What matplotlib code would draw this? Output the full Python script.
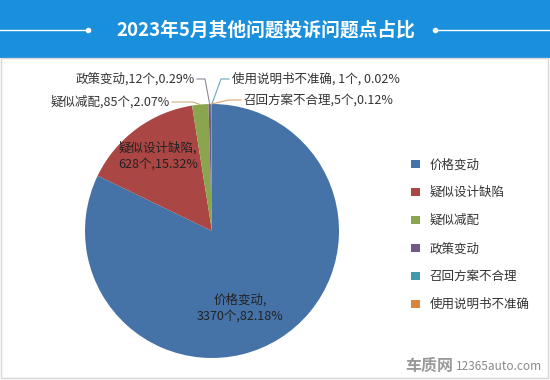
import numpy as np
import matplotlib
matplotlib.use("Agg")
import matplotlib.pyplot as plt
from matplotlib.patches import Rectangle

plt.rcParams['font.family'] = ['Noto Sans CJK SC', 'DejaVu Sans']

# data
categories = ['价格变动', '疑似设计缺陷', '疑似减配', '政策变动', '召回方案不合理', '使用说明书不准确']
counts = [3370, 628, 85, 12, 5, 1]
percents = ['82.18%', '15.32%', '2.07%', '0.29%', '0.12%', '0.02%']
colors = ['#4572A7', '#AA4643', '#89A54E', '#71588F', '#4198AF', '#DB843D']
title = '2023年5月其他问题投诉问题点占比'

W, H = 550, 380
fig = plt.figure(figsize=(W / 100, H / 100), dpi=100)
fig.patch.set_facecolor('white')

# header band
fig.patches.append(Rectangle((0, 1 - 58 / H), 1, 58 / H, transform=fig.transFigure,
                             facecolor='#1a8fdc', edgecolor='none', zorder=0))
ty = 1 - 30 / H
fig.add_artist(plt.Line2D([0, 88 / W], [ty, ty], color='white', lw=1, transform=fig.transFigure))
fig.add_artist(plt.Line2D([435 / W, 1], [ty, ty], color='white', lw=1, transform=fig.transFigure))
fig.add_artist(plt.Line2D([88 / W, 435 / W], [ty, ty], color='white', lw=0, marker='o', ms=3,
                          transform=fig.transFigure))
fig.text(266 / W, ty, title, color='white', fontsize=13.5, fontweight='bold',
         ha='center', va='center')

# panel border
fig.add_artist(Rectangle((1 / W, 2 / H), (W - 3) / W, (H - 60) / H, transform=fig.transFigure,
                         facecolor='none', edgecolor='#d6d6d6', lw=1))

# pie
cx, cy, r = 212, 231, 127
ax = fig.add_axes([(cx - r) / W, (H - cy - r) / H, 2 * r / W, 2 * r / H])
wedges, _ = ax.pie(counts, colors=colors, startangle=90, counterclock=False, radius=1)
ax.set_xlim(-1, 1)
ax.set_ylim(-1, 1)
ax.set_aspect('auto')
ax.axis('off')

def px(x, y):
    # pixel coords -> data coords of pie axes
    return (x - cx) / r, -(y - cy) / r

labels = [f'{c},{n}个,{p}' for c, n, p in zip(categories, counts, percents)]

# inside labels
ax.text(*px(240, 308), f'{categories[0]},\n{counts[0]}个,{percents[0]}', ha='center', va='center',
        fontsize=9, color='#222222', linespacing=1.3)
ax.text(*px(158, 156), f'{categories[1]},\n{counts[1]}个,{percents[1]}', ha='center', va='center',
        fontsize=9, color='#222222', linespacing=1.3)

# outside labels with leader lines
def mid_point(w, frac=1.0):
    a = np.deg2rad((w.theta1 + w.theta2) / 2)
    return frac * np.cos(a), frac * np.sin(a)

outside = [
    (2, labels[2], (172, 102), (193, 102), '#c8ad82'),
    (3, labels[3], (197, 79), (205, 79), '#8a8a9a'),
    (5, '使用说明书不准确, 1个, 0.02%', (229, 79), (221, 79), '#6aa8c0'),
    (4, labels[4], (241, 100), (229, 100), '#e0a070'),
]
for i, txt, tpos, bend, lc in outside:
    ex, ey = mid_point(wedges[i])
    bx, by = px(*bend)
    tx, tyy = px(*tpos)
    ha = 'right' if tpos[0] < bend[0] else 'left'
    ax.plot([ex, bx, tx], [ey, by, tyy], color=lc, lw=0.8, clip_on=False)
    ax.text(tx + (-0.02 if ha == 'right' else 0.02), tyy, txt, ha=ha, va='center',
            fontsize=9, color='#333333', clip_on=False)

# legend
fig.legend(wedges, categories, loc='upper left', bbox_to_anchor=(400 / W, 1 - 147 / H),
           frameon=False, fontsize=9, handlelength=0.7, handleheight=0.7,
           labelspacing=1.2, handletextpad=0.8, labelcolor='#333333')

# watermark
fig.text(405 / W, 1 - 366 / H, '车质网', fontsize=11.5, fontweight='bold', color='#9a9a9a',
         ha='left', va='center')
fig.text(456 / W, 1 - 367 / H, '12365auto.com', fontsize=8.5, color='#8a8a8a',
         ha='left', va='center')

fig.savefig('out.png', dpi=100)
